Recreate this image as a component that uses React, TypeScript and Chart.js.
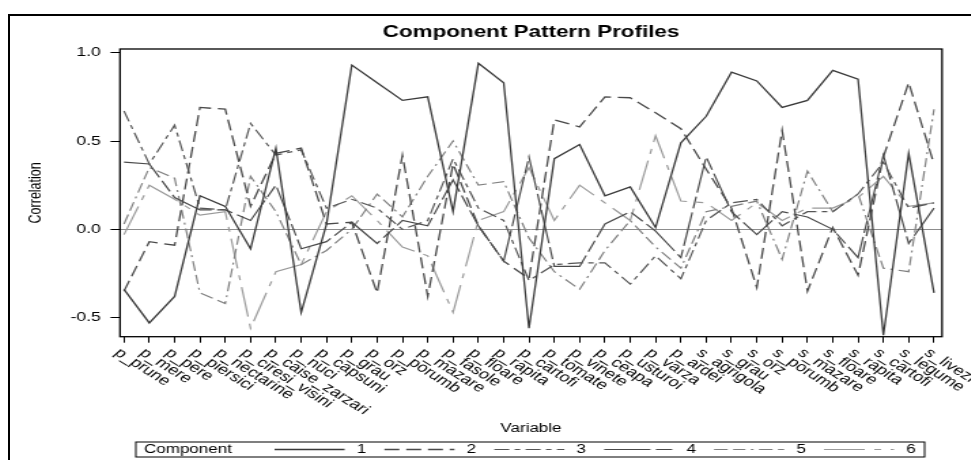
import React, { useEffect, useRef } from "react";
import { Chart, registerables } from "chart.js";
Chart.register(...registerables);

const categories = [
  "p_prune", "p_mere", "p_pere", "p_piersici", "p_nectarine", "p_ciresi_visini",
  "p_caise_zarzari", "p_nuci", "p_capsuni", "p_grau", "p_orz", "p_porumb",
  "p_mazare", "p_fasole", "p_floare", "p_rapita", "p_cartofi", "p_tomate",
  "p_vinete", "p_ceapa", "p_usturoi", "p_varza", "p_ardei", "s_agrigola",
  "s_grau", "s_orz", "s_porumb", "s_mazare", "s_floare", "s_rapita",
  "s_cartofi", "s_legume", "s_livezi",
];

const comp1 = [-0.34, -0.53, -0.38, 0.19, 0.13, -0.11, 0.46, -0.47, 0.03, 0.93, 0.83, 0.73, 0.75, 0.1, 0.94, 0.83, -0.56, 0.4, 0.48, 0.19, 0.24, 0.01, 0.49, 0.64, 0.89, 0.84, 0.69, 0.73, 0.9, 0.85, -0.6, 0.43, -0.36];
const comp2 = [-0.35, -0.07, -0.09, 0.69, 0.68, 0.13, 0.43, 0.46, 0.03, 0.04, -0.36, 0.42, -0.38, 0.37, 0.02, -0.18, -0.28, 0.62, 0.58, 0.75, 0.745, 0.66, 0.57, 0.34, 0.12, -0.33, 0.56, -0.35, 0.01, -0.26, 0.41, 0.83, 0.37];
const comp3 = [0.67, 0.37, 0.59, 0.12, 0.11, 0.6, 0.42, 0.45, 0.12, 0.17, 0.12, 0.0, 0.05, 0.4, 0.12, 0.05, -0.29, -0.2, -0.19, -0.19, -0.31, -0.15, -0.28, 0.05, 0.15, 0.17, 0.02, 0.1, 0.1, 0.2, 0.38, 0.12, 0.15];
const comp4 = [0.38, 0.37, 0.18, 0.11, 0.11, 0.05, 0.25, -0.11, -0.07, 0.04, -0.08, 0.05, 0.02, 0.28, 0.02, -0.18, 0.41, -0.21, -0.21, 0.03, 0.1, -0.01, -0.16, 0.41, 0.1, -0.03, 0.1, 0.07, 0.0, -0.16, 0.42, -0.08, 0.12];
const comp5 = [0.03, 0.35, 0.29, -0.36, -0.42, 0.3, 0.1, -0.2, -0.12, 0.0, 0.2, 0.07, 0.3, 0.5, 0.25, 0.27, -0.05, -0.24, -0.34, -0.12, 0.05, -0.1, -0.22, 0.1, 0.13, 0.16, -0.17, 0.33, 0.1, 0.2, -0.22, -0.24, 0.68];
const comp6 = [-0.03, 0.25, 0.17, 0.08, 0.1, -0.56, -0.24, -0.2, 0.1, 0.19, 0.05, -0.1, -0.15, -0.47, 0.05, 0.1, 0.35, 0.05, 0.25, 0.15, 0.05, 0.53, 0.16, 0.15, 0.05, 0.15, 0.05, 0.12, 0.12, 0.18, 0.3, 0.13, 0.15];

const componentNames = ["1", "2", "3", "4", "5", "6"];
const componentValues = [comp1, comp2, comp3, comp4, comp5, comp6];

const chartTitle = "Component Pattern Profiles";
const xTitle = "Variable";
const yTitle = "Correlation";
const legendTitle = "Component";

const FONT = "'Liberation Sans', Arial, Helvetica, sans-serif";
const PAGE_W = 971;
const PAGE_H = 452;
const SX = 1.36;
const CW = Math.round(PAGE_W / SX);

const lineStyles = [
  { color: "#3a3a3a", dash: [] as number[], width: 1.3 },
  { color: "#4a4a4a", dash: [11, 5], width: 1.3 },
  { color: "#555555", dash: [11, 4, 4, 4], width: 1.2 },
  { color: "#4a4a4a", dash: [34, 4, 12, 4], width: 1.2 },
  { color: "#808080", dash: [10, 4, 9, 4, 2, 4], width: 1.2 },
  { color: "#9a9a9a", dash: [30, 7, 5, 7], width: 1.2 },
];

export default function App() {
  const ref = useRef<HTMLCanvasElement>(null);

  useEffect(() => {
    const canvas = ref.current!;
    const decor = {
      id: "decor",
      afterDraw(chart: any) {
        const { ctx, chartArea } = chart;
        const xs = chart.scales.x;
        ctx.save();
        ctx.strokeStyle = "#000";
        ctx.lineWidth = 1.3;
        ctx.strokeRect(chartArea.left, chartArea.top, chartArea.right - chartArea.left, chartArea.bottom - chartArea.top);
        ctx.fillStyle = "#000";
        ctx.font = `bold 16.5px ${FONT}`;
        ctx.textAlign = "center";
        ctx.textBaseline = "middle";
        ctx.fillText(chartTitle, (chartArea.left + chartArea.right) / 2, 24.5);
        ctx.font = `13.5px ${FONT}`;
        ctx.textAlign = "left";
        ctx.textBaseline = "top";
        categories.forEach((c, i) => {
          const x = xs.getPixelForValue(i);
          ctx.save();
          ctx.translate(x - 5, chartArea.bottom + 14);
          ctx.rotate((40 * Math.PI) / 180);
          ctx.fillText(c, 0, -6);
          ctx.restore();
        });
        const top = 434, bottom = 449, left = 94, right = 674;
        ctx.lineWidth = 1;
        ctx.strokeStyle = "#000";
        ctx.strokeRect(left, top, right - left, bottom - top);
        ctx.font = `12.5px ${FONT}`;
        ctx.textBaseline = "middle";
        ctx.textAlign = "left";
        const cy = (top + bottom) / 2;
        ctx.fillText(legendTitle, 100, cy + 0.5);
        chart.data.datasets.forEach((ds: any, i: number) => {
          const x0 = 196 + i * 80.8;
          const st = lineStyles[i];
          ctx.save();
          ctx.strokeStyle = st.color;
          ctx.lineWidth = st.width;
          ctx.setLineDash(st.dash);
          ctx.beginPath();
          ctx.moveTo(x0, cy);
          ctx.lineTo(x0 + 51.5, cy);
          ctx.stroke();
          ctx.restore();
          ctx.textAlign = "center";
          ctx.fillText(ds.label, x0 + 64, cy + 0.5);
        });
        ctx.restore();
      },
    };

    const chart = new Chart(canvas, {
      type: "line",
      data: {
        datasets: componentValues.map((vals, i) => ({
          label: componentNames[i],
          data: vals.map((v, j) => ({ x: j, y: v })),
          borderColor: lineStyles[i].color,
          borderDash: lineStyles[i].dash,
          borderWidth: lineStyles[i].width,
          pointRadius: 0,
          fill: false,
          tension: 0,
        })),
      },
      options: {
        responsive: false,
        animation: false,
        devicePixelRatio: 1,
        layout: { padding: { left: 0, right: CW - 686.8, top: 41, bottom: 24 } },
        plugins: {
          legend: { display: false },
          tooltip: { enabled: false },
          title: { display: false },
        },
        scales: {
          x: {
            type: "linear",
            min: -0.158,
            max: 32.317,
            afterFit: (s: any) => { s.height = 99.3; },
            ticks: { display: false, stepSize: 1, includeBounds: false, autoSkip: false },
            grid: { drawOnChartArea: false, drawTicks: true, tickLength: 6, color: "#000", tickColor: "#000", lineWidth: 1 },
            border: { display: false },
            title: { display: true, text: xTitle, color: "#000", font: { family: FONT, size: 12.5 }, padding: { top: 0, bottom: 0 } },
          },
          y: {
            min: -0.608,
            max: 1.021,
            afterFit: (s: any) => { s.width = 82.35; },
            ticks: {
              stepSize: 0.5,
              includeBounds: false,
              color: "#000",
              padding: 7,
              font: { family: FONT, size: 13 },
              callback: (v: any) => Number(v).toFixed(1),
            },
            grid: {
              drawOnChartArea: true,
              tickLength: 7,
              tickColor: "#000",
              color: (c: any) => (c.tick && c.tick.value === 0 ? "#8c8c8c" : "rgba(0,0,0,0)"),
              lineWidth: 1,
            },
            border: { display: false },
            title: { display: true, text: yTitle, color: "#000", font: { family: FONT, size: 12.5 }, padding: { top: 13.4, bottom: 0 } },
          },
        },
      },
      plugins: [decor],
    } as any);
    return () => chart.destroy();
  }, []);

  return (
    <div style={{ position: "relative", width: PAGE_W, height: PAGE_H, overflow: "hidden", background: "#fff" }}>
      <canvas
        ref={ref}
        width={CW}
        height={PAGE_H}
        style={{ position: "absolute", left: 0, top: 0, width: PAGE_W + "px", height: PAGE_H + "px" }}
      />
      <div
        style={{
          position: "absolute",
          left: 0,
          top: 6,
          width: 3000,
          height: 3000,
          borderTop: "2px solid #000",
          borderLeft: "2px solid #000",
          pointerEvents: "none",
        }}
      />
    </div>
  );
}
